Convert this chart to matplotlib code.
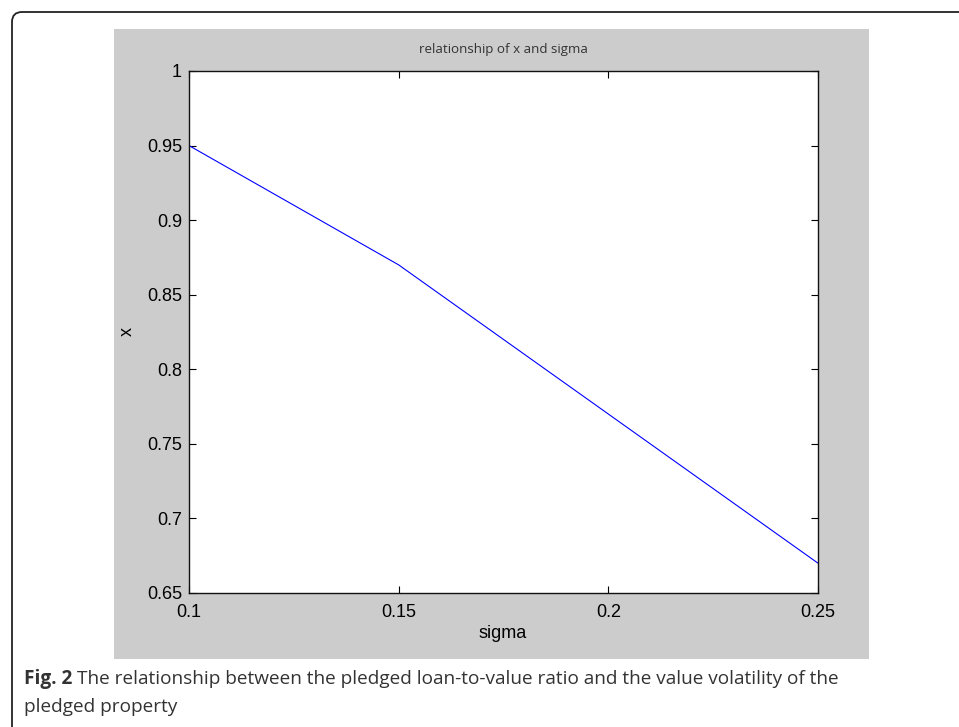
import matplotlib
matplotlib.use("Agg")
import matplotlib.pyplot as plt
from matplotlib.patches import Rectangle, FancyBboxPatch
from matplotlib.transforms import IdentityTransform

# data
sigma = [0.10, 0.15, 0.20, 0.25]
x_vals = [0.95, 0.87, 0.77, 0.67]
xticks = [0.1, 0.15, 0.2, 0.25]
xtick_labels = ["0.1", "0.15", "0.2", "0.25"]
yticks = [0.65, 0.7, 0.75, 0.8, 0.85, 0.9, 0.95, 1.0]
ytick_labels = ["0.65", "0.7", "0.75", "0.8", "0.85", "0.9", "0.95", "1"]

W, H = 959, 727
DPI = 100
fig = plt.figure(figsize=(W / DPI, H / DPI), dpi=DPI)
fig.patch.set_facecolor("white")


def fx(px):
    return px / W


def fy(py):
    return 1 - py / H


# rounded frame around the figure (clipped at right/bottom)
frame = FancyBboxPatch((12, -30), 1000, H - 12 + 30,
                       boxstyle="round,pad=0,rounding_size=10",
                       transform=IdentityTransform(), facecolor="none",
                       edgecolor="#222222", linewidth=1.3, zorder=-2)
fig.patches.append(frame)

# grey matlab-style figure panel
panel = Rectangle((fx(114), fy(659)), fx(869) - fx(114), fy(29) - fy(659),
                  transform=fig.transFigure, facecolor="#cccccc",
                  edgecolor="none", zorder=-1)
fig.patches.append(panel)

ax = fig.add_axes([fx(189), fy(593), fx(818) - fx(189), fy(71) - fy(593)])
ax.set_zorder(2)
ax.plot(sigma, x_vals, color="#0000ff", linewidth=0.8)

ax.set_xlim(0.1, 0.25)
ax.set_ylim(0.65, 1.0)
ax.set_xticks(xticks)
ax.set_xticklabels(xtick_labels)
ax.set_yticks(yticks)
ax.set_yticklabels(ytick_labels)
tick_font = "Liberation Sans"
tick_size = 13
ax.tick_params(direction="in", length=5, width=0.8, top=True, right=True,
               labelsize=tick_size, colors="black")
ax.tick_params(axis="x", pad=8)
ax.tick_params(axis="y", pad=5)
for lab in ax.get_xticklabels() + ax.get_yticklabels():
    lab.set_family(tick_font)
for sp in ax.spines.values():
    sp.set_linewidth(1.0)
    sp.set_color("#111111")

fig.text(fx(503), fy(50), "relationship of x and sigma", ha="center",
         va="center", fontsize=9.6, family="Open Sans", color="#333333",
         zorder=3)
fig.text(fx(503), fy(634), "sigma", ha="center", va="center",
         fontsize=tick_size, family=tick_font, zorder=3)
fig.text(fx(127), fy(332), "x", ha="center", va="center",
         fontsize=tick_size, family=tick_font, rotation=90, zorder=3)

# caption
cap_col = "#333333"
cap_size = 13.7
t1 = fig.text(fx(24), fy(684), "Fig. 2", fontsize=cap_size,
              family="Open Sans", weight="bold", color=cap_col,
              va="baseline")
r = fig.canvas.get_renderer()
bb = t1.get_window_extent(r)
fig.text((bb.x1 + 5) / W, fy(684),
         "The relationship between the pledged loan-to-value ratio and the value volatility of the",
         fontsize=cap_size, family="Open Sans", color=cap_col, va="baseline")
fig.text(fx(24), fy(712), "pledged property", fontsize=cap_size,
         family="Open Sans", color=cap_col, va="baseline")

fig.savefig("out.png", dpi=DPI)
